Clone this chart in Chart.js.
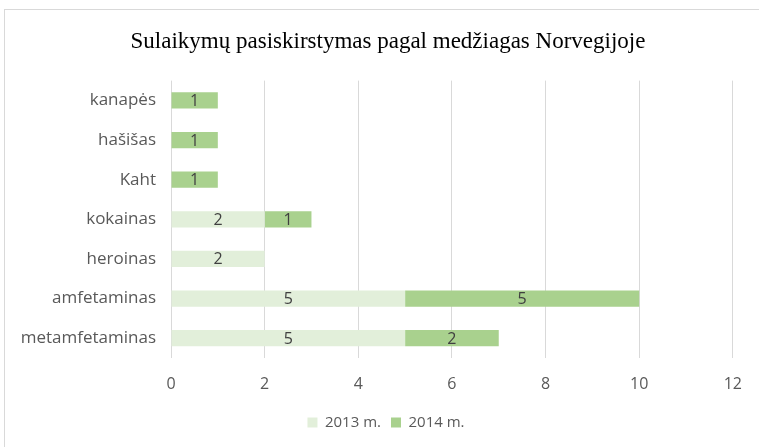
<!DOCTYPE html>
<html>
<head>
<meta charset="utf-8">
<script src="https://cdn.jsdelivr.net/npm/chart.js@4"></script>
<style>
    html, body { margin: 0; padding: 0; background: #fff; }
    #wrap { position: relative; width: 759px; height: 447px; }
    #frame { position: absolute; left: 4px; top: 9px; width: 760px; height: 450px; border: 1px solid #d9d9d9; box-sizing: border-box; pointer-events: none; }
</style>
</head>
<body>
<div id="wrap">
    <canvas id="seizureChart" width="759" height="447"></canvas>
    <div id="frame"></div>
</div>
<script>
// Substances, top to bottom as in the picture
var substances = ['kanapės', 'hašišas', 'Kaht', 'kokainas', 'heroinas', 'amfetaminas', 'metamfetaminas'];
var seriesNames = ['2013 m.', '2014 m.'];
var values2013 = [0, 0, 0, 2, 2, 5, 5];
var values2014 = [1, 1, 1, 1, 0, 5, 2];
var xTicks = [0, 2, 4, 6, 8, 10, 12];

// Value labels drawn in the middle of each bar piece
var barLabels = {
    id: 'barLabels',
    afterDatasetsDraw: function(chart) {
        var ctx = chart.ctx;
        ctx.save();
        ctx.font = '16px "Open Sans", sans-serif';
        ctx.fillStyle = '#404040';
        ctx.textAlign = 'center';
        ctx.textBaseline = 'middle';
        chart.data.datasets.forEach(function(ds, i) {
            var meta = chart.getDatasetMeta(i);
            meta.data.forEach(function(bar, j) {
                var v = ds.data[j];
                if (!v) return;
                var p = bar.getCenterPoint();
                ctx.fillText(String(v), p.x, p.y + 1);
            });
        });
        ctx.restore();
    }
};

// Title and legend sit a bit right of the canvas centre in the original
var shiftHeader = {
    id: 'shiftHeader',
    afterLayout: function(chart) {
        if (chart.titleBlock) chart.titleBlock.left += 40;
        if (chart.legend) chart.legend.left += 36;
    }
};

new Chart(document.getElementById('seizureChart'), {
    type: 'bar',
    data: {
        labels: substances,
        datasets: [{
            label: seriesNames[0],
            data: values2013,
            backgroundColor: '#e2efda',
            borderWidth: 0,
            barPercentage: 0.41,
            categoryPercentage: 1
        }, {
            label: seriesNames[1],
            data: values2014,
            backgroundColor: '#a9d18e',
            borderWidth: 0,
            barPercentage: 0.41,
            categoryPercentage: 1
        }]
    },
    options: {
        responsive: false,
        animation: false,
        indexAxis: 'y',
        layout: { padding: { left: 0, right: 23, top: 0, bottom: 7 } },
        plugins: {
            title: {
                display: true,
                text: 'Sulaikymų pasiskirstymas pagal medžiagas Norvegijoje',
                color: '#000',
                font: { family: '"Liberation Serif", serif', size: 23, weight: 'normal' },
                padding: { top: 28, bottom: 25 }
            },
            legend: {
                position: 'bottom',
                labels: {
                    color: '#595959',
                    font: { family: '"Open Sans", sans-serif', size: 15 },
                    boxWidth: 10,
                    boxHeight: 10,
                    padding: 10
                }
            },
            tooltip: { enabled: false }
        },
        scales: {
            x: {
                stacked: true,
                min: 0,
                max: 12,
                afterBuildTicks: function(scale) {
                    scale.ticks = xTicks.map(function(v) { return { value: v }; });
                },
                afterFit: function(scale) { scale.height = 47; },
                grid: { color: '#d9d9d9', drawTicks: false },
                border: { display: false },
                ticks: {
                    color: '#595959',
                    padding: 17,
                    font: { family: '"Open Sans", sans-serif', size: 16 }
                }
            },
            y: {
                stacked: true,
                afterFit: function(scale) { scale.width = 171; },
                grid: { display: false },
                border: { display: false },
                ticks: {
                    color: '#595959',
                    padding: 7,
                    font: { family: '"Open Sans", sans-serif', size: 17 }
                }
            }
        }
    },
    plugins: [barLabels, shiftHeader]
});
</script>
</body>
</html>
